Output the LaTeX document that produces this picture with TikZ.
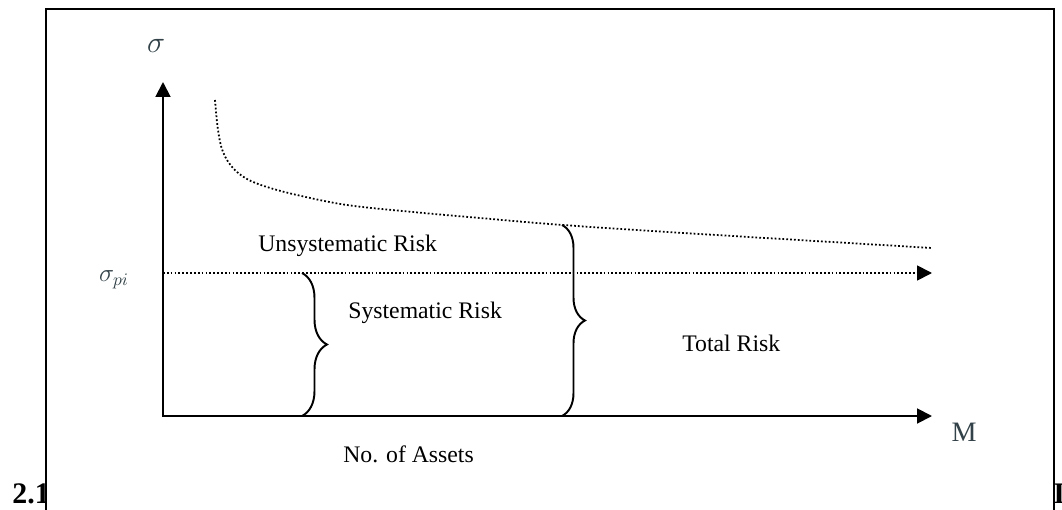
\documentclass[tikz,border=0pt]{standalone}
\usepackage{fontspec}
\setmainfont{Liberation Serif}
\usetikzlibrary{arrows.meta,decorations.pathreplacing}

\tikzset{
	axis/.style={line width=1.1pt, {Triangle[length=8.5pt,width=8.5pt]}-{Triangle[length=8.5pt,width=8.5pt]}},
	dotline/.style={line width=1pt, dash pattern=on 1pt off 1.2pt},
	dotarrow/.style={dotline, -{Triangle[length=8.5pt,width=8.5pt]}},
	riskbrace/.style={line width=1.1pt, decorate, decoration={brace, amplitude=#1}},
	lbl/.style={font=\fontsize{13.5}{16}\selectfont, inner sep=0pt, anchor=base west},
	sect/.style={font=\bfseries\fontsize{17}{20}\selectfont, inner sep=0pt, anchor=base west},
}
\definecolor{symgray}{RGB}{50,66,72}

\begin{document}
\begin{tikzpicture}[x=0.02cm, y=-0.02cm]
	\useasboundingbox (0,0) rectangle (1062,510);
	\clip (0,0) rectangle (1062,510);
	\node[sect] (sec) at (12,503) {2.1};
	\node[sect] (secend) at (1053,503) {I};
	\draw[line width=1.1pt, fill=white] (46,9) rectangle (1054,530);

	\coordinate (O) at (163,416);
	\coordinate (ytop) at (163,82);
	\coordinate (xend) at (932,416);
	\coordinate (piL) at (163,273);
	\coordinate (piR) at (932,273);
	\coordinate (sysTop) at (302,273);
	\coordinate (sysBot) at (302,416);
	\coordinate (totTop) at (562,225);
	\coordinate (totBot) at (562,416);

	\node[font=\fontsize{16}{18}\selectfont, text=symgray] (sigma) at (156,46) {$\sigma$};
	\node[font=\fontsize{14}{16}\selectfont, text=symgray] (sigmapi) at (114,280) {$\sigma_{pi}$};
	\node[font=\fontsize{16}{18}\selectfont, text=symgray] (M) at (964,432) {M};

	\draw[axis] (ytop) -- (O) -- (xend);
	\draw[dotarrow] (piL) -- (piR);
	\draw[dotline] plot[smooth, tension=0.6] coordinates {(215,100) (218,130) (223,152) (233,168) (247,179) (267,187) (297,195) (347,205) (413,212) (480,218) (563,225) (700,234) (932,248)};

	\draw[riskbrace=0.5cm] (sysTop) -- (sysBot);
	\draw[riskbrace=0.46cm] (totTop) -- (totBot);

	\node[lbl] (unsys) at (258,251) {Unsystematic Risk};
	\node[lbl] (sys) at (348,318) {Systematic Risk};
	\node[lbl] (total) at (682,351) {Total Risk};
	\node[lbl] (assets) at (343,462) {No. of Assets};
\end{tikzpicture}
\end{document}
